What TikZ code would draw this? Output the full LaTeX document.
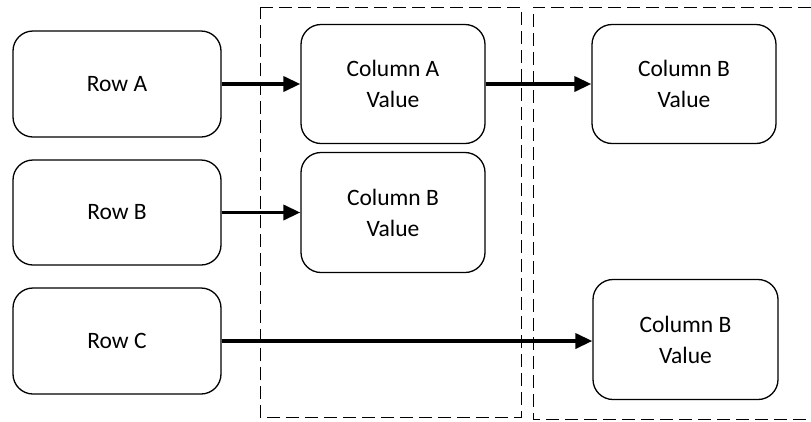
\documentclass[tikz,border=0pt]{standalone}
\usepackage{fontspec}
\setmainfont{Carlito}
\usetikzlibrary{arrows.meta}
\begin{document}
\begin{tikzpicture}[x=1pt,y=-1pt,
  box/.style={draw, line width=1.3pt, rounded corners=20pt, align=center, font=\fontsize{23.5}{31}\selectfont, inner sep=0pt},
  arr/.style={line width=3.6pt, -{Triangle[length=17pt,width=15pt]}},
  frame/.style={draw, line width=1pt, dash pattern=on 13pt off 6pt}]
\useasboundingbox (0,0) rectangle (811,421);
% dashed frames
\draw[frame] (260,7) -- (521,7) -- (521,417) -- (260,417) -- cycle;
\draw[frame] (811,7) -- (533,7) -- (533,419) -- (811,419);
% boxes
\node[box, minimum width=208pt, minimum height=106pt] (ra) at (117,84) {Row A};
\node[box, minimum width=208pt, minimum height=105pt] (rb) at (117,212.5) {Row B};
\node[box, minimum width=208pt, minimum height=106pt] (rc) at (117,341) {Row C};
\node[box, minimum width=184pt, minimum height=119pt] (ca) at (393,84) {Column A\\Value};
\node[box, minimum width=184pt, minimum height=120pt] (cb) at (393,212.5) {Column B\\Value};
\node[box, minimum width=184pt, minimum height=119pt] (cbt) at (684,84) {Column B\\Value};
\node[box, minimum width=185pt, minimum height=120pt] (cbb) at (685.5,339.5) {Column B\\Value};
% arrows
\draw[arr] (ra.east) -- (ca.west);
\draw[arr] (rb.east) -- (cb.west);
\draw[arr] (ca.east) -- (cbt.west);
\draw[arr] (rc.east) -- (cbb.west |- rc.east);
\end{tikzpicture}
\end{document}
